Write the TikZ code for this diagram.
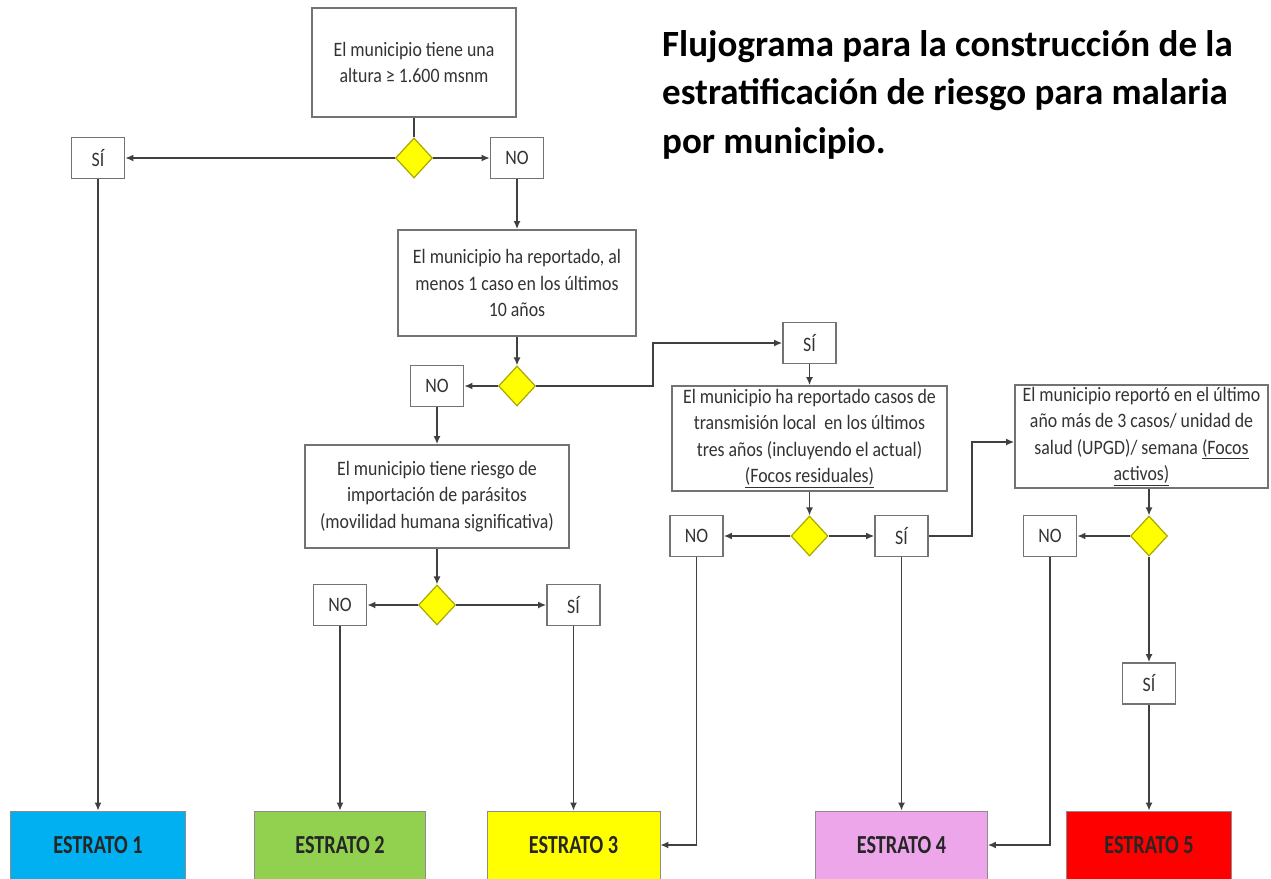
\documentclass[tikz,border=0pt]{standalone}
\usepackage{fontspec}
\setmainfont{Carlito}
\newfontfamily\cajafont[FakeStretch=0.87]{Carlito}
\newfontfamily\estratofont[FakeStretch=0.78]{Carlito}
\usetikzlibrary{shapes.geometric,arrows.meta}

\definecolor{celeste}{HTML}{00B0F0}
\definecolor{verde}{HTML}{92D050}
\definecolor{amarillo}{HTML}{FFFF00}
\definecolor{lila}{HTML}{EEA6EA}
\definecolor{rojo}{HTML}{FF0000}
\definecolor{borderombo}{HTML}{A8A800}

\tikzset{
	pregunta/.style={draw=black!55, line width=1.8pt, fill=white, text=black!80,
		font=\cajafont\fontsize{20.5}{26.5}\selectfont, align=center, inner sep=2pt},
	resp/.style={pregunta, minimum width=53pt, minimum height=41pt},
	rombo/.style={diamond, draw=borderombo, fill=amarillo, line width=1.2pt,
		minimum width=37pt, minimum height=40pt, inner sep=0pt},
	estrato/.style={draw=black!45, line width=0.8pt, minimum height=68pt, text=black!85,
		font=\estratofont\bfseries\fontsize{26}{30}\selectfont},
	linea/.style={draw=black!75, line width=1.4pt},
	flecha/.style={linea, ->}
}

\begin{document}
\begin{tikzpicture}[x=1pt, y=-1pt, >={Latex[length=8pt,width=7pt]}]
	\useasboundingbox (0,0) rectangle (1271,878);

	% titulo
	\node [anchor=base west, align=left, inner sep=0pt,
		font=\bfseries\fontsize{37}{48.5}\selectfont] (titulo) at (662,153)
		{Flujograma para la construcción de la\\estratificación de riesgo para malaria\\por municipio.};

	% altura
	\node [pregunta, minimum width=204pt, minimum height=109pt] (altura) at (414,62.5)
		{El municipio tiene una\\altura ≥ 1.600 msnm};
	\node [rombo] (r1) at (414,158) {};
	\node [resp] (si1) at (98,158) {SÍ};
	\node [resp] (no1) at (517,158) {NO};

	% casos 10 anios
	\node [pregunta, minimum width=238pt, minimum height=106pt] (casos) at (517,283)
		{El municipio ha reportado, al\\menos 1 caso en los últimos\\10 años};
	\node [rombo] (r2) at (517,386) {};
	\node [resp] (no2) at (437,386) {NO};
	\node [resp] (si2) at (809.5,343) {SÍ};
	\coordinate (c1) at (653,343);

	% importacion
	\node [pregunta, minimum width=264pt, minimum height=103pt] (import) at (437,496.5)
		{El municipio tiene riesgo de\\importación de parásitos\\(movilidad humana significativa)};
	\node [rombo] (r5) at (437,605) {};
	\node [resp] (no5) at (340,605) {NO};
	\node [resp] (si5) at (573.5,605) {SÍ};

	% focos residuales
	\node [pregunta, minimum width=275pt, minimum height=105pt] (resid) at (809.5,438.5)
		{El municipio ha reportado casos de\\transmisión local~ en los últimos\\tres años (incluyendo el actual)\\\underline{(Focos residuales)}};
	\node [rombo] (r3) at (809.5,536) {};
	\node [resp] (no3) at (696.5,536) {NO};
	\node [resp] (si3) at (901.5,536) {SÍ};
	\coordinate (c2) at (972,442);

	% focos activos
	\node [pregunta, minimum width=253pt, minimum height=103pt] (activ) at (1141.5,436.5)
		{El municipio reportó en el último\\año más de 3 casos/ unidad de\\salud (UPGD)/ semana \underline{(Focos}\\\underline{activos)}};
	\node [rombo] (r4) at (1149,536) {};
	\node [resp] (no4) at (1050,536) {NO};
	\node [resp] (si4) at (1149,683.5) {SÍ};

	% estratos
	\node [estrato, fill=celeste, minimum width=175pt] (e1) at (98,845) {ESTRATO 1};
	\node [estrato, fill=verde, minimum width=171pt] (e2) at (340,845) {ESTRATO 2};
	\node [estrato, fill=amarillo, minimum width=173pt] (e3) at (573.5,845) {ESTRATO 3};
	\node [estrato, fill=lila, minimum width=172pt] (e4) at (901.5,845) {ESTRATO 4};
	\node [estrato, fill=rojo, minimum width=165pt] (e5) at (1149,845) {ESTRATO 5};

	% conectores
	\draw [linea] (altura) -- (r1);
	\draw [flecha] (r1) -- (si1);
	\draw [flecha] (r1) -- (no1);
	\draw [flecha] (si1) -- (e1);
	\draw [flecha] (no1) -- (casos);

	\draw [flecha] (casos) -- (r2);
	\draw [flecha] (r2) -- (no2);
	\draw [flecha] (r2.east) -| (c1) -- (si2.west);
	\draw [flecha] (no2) -- (import);

	\draw [flecha] (import) -- (r5);
	\draw [flecha] (r5) -- (no5);
	\draw [flecha] (r5) -- (si5);
	\draw [flecha] (no5) -- (e2);
	\draw [flecha] (si5) -- (e3);

	\draw [flecha] (si2) -- (resid);
	\draw [flecha] (resid) -- (r3);
	\draw [flecha] (r3) -- (no3);
	\draw [flecha] (r3) -- (si3);
	\draw [flecha] (no3.south) |- (e3.east);
	\draw [flecha] (si3) -- (e4);
	\draw [flecha] (si3.east) -| (c2) -- (c2 -| activ.west);

	\draw [flecha] (r4 |- activ.south) -- (r4.north);
	\draw [flecha] (r4) -- (no4);
	\draw [flecha] (r4) -- (si4);
	\draw [flecha] (si4) -- (e5);
	\draw [flecha] (no4.south) |- (e4.east);
\end{tikzpicture}
\end{document}
